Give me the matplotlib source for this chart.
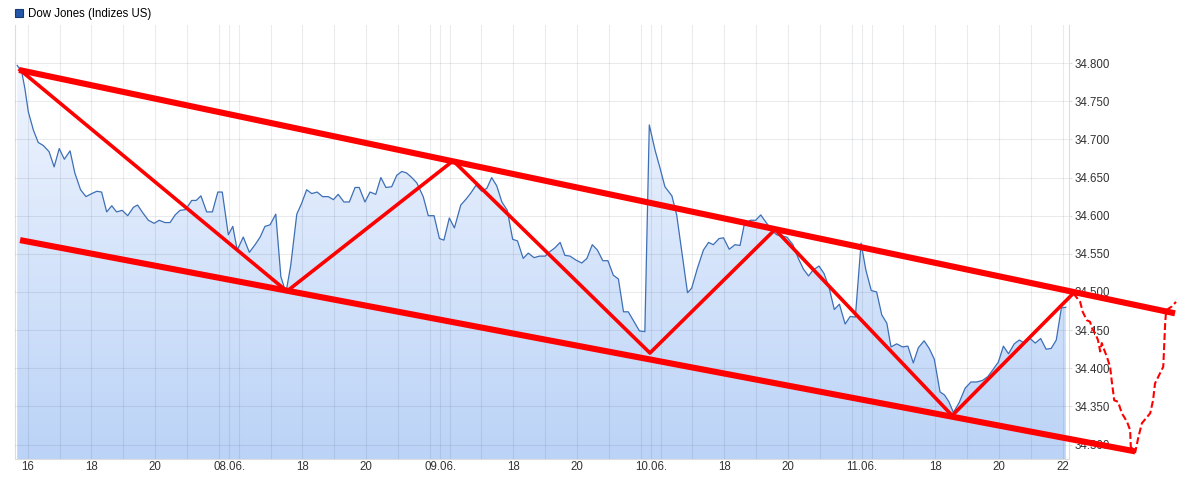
import matplotlib
matplotlib.use('Agg')
import matplotlib.pyplot as plt
from matplotlib.colors import LinearSegmentedColormap
from matplotlib.patches import Patch
import numpy as np

plt.rcParams['font.family'] = ['Liberation Sans', 'DejaVu Sans']

# x axis = trading hours since 07.06. 15:30, sessions 15:30-22:00 glued together
session_len = 6.625
day_labels = ['07.06.', '08.06.', '09.06.', '10.06.', '11.06.']

dow_t = [
    0.17, 0.31, 0.41, 0.52, 0.68, 0.83, 0.99, 1.17, 1.33, 1.49, 1.65, 1.83, 1.98, 2.16,
    2.33, 2.51, 2.67, 2.82, 2.98, 3.14, 3.29, 3.47, 3.64, 3.82, 3.95, 4.11, 4.29, 4.47,
    4.63, 4.81, 4.97, 5.13, 5.28, 5.46, 5.65, 5.79, 5.94, 6.12, 6.30, 6.47, 6.61,
    6.80, 6.94, 7.08, 7.27, 7.46, 7.64, 7.80, 7.95, 8.11, 8.29, 8.45, 8.61, 8.76, 8.95,
    9.10, 9.26, 9.42, 9.59, 9.76, 9.94, 10.10, 10.25, 10.43, 10.60, 10.78, 10.91, 11.09,
    11.25, 11.43, 11.59, 11.75, 11.93, 12.09, 12.25, 12.40, 12.56, 12.72, 12.92, 13.08, 13.26,
    13.43, 13.57, 13.74, 13.90, 14.10, 14.27, 14.42, 14.58, 14.76, 14.92, 15.07, 15.23,
    15.39, 15.56, 15.73, 15.88, 16.06, 16.22, 16.40, 16.57, 16.75, 16.90, 17.06, 17.22,
    17.37, 17.53, 17.71, 17.90, 18.06, 18.23, 18.39, 18.56, 18.72, 18.89, 19.05, 19.21,
    19.36, 19.54, 19.71, 19.88,
    20.02, 20.20, 20.36, 20.51, 20.73, 20.88, 21.04, 21.22, 21.35, 21.53, 21.72, 21.88,
    22.03, 22.21, 22.35, 22.53, 22.71, 22.87, 23.00, 23.19, 23.36, 23.52, 23.69, 23.87,
    24.02, 24.18, 24.34, 24.53, 24.70, 24.86, 25.02, 25.17, 25.35, 25.51, 25.67, 25.83,
    25.99, 26.17, 26.33, 26.49,
    26.67, 26.82, 26.99, 27.16, 27.32, 27.48, 27.61, 27.79, 27.97, 28.14, 28.31, 28.47,
    28.65, 28.81, 28.97, 29.15, 29.29, 29.43, 29.57, 29.75, 29.94, 30.12, 30.30, 30.48,
    30.65, 30.81, 30.98, 31.14, 31.30, 31.48, 31.64, 31.80, 31.98, 32.14, 32.31, 32.48,
    32.64, 32.80, 32.96, 33.10,
]
dow_values = [
    34797, 34789, 34767, 34736, 34712, 34696, 34692, 34684, 34664, 34688, 34674, 34685, 34656, 34634,
    34625, 34629, 34632, 34631, 34605, 34613, 34605, 34607, 34600, 34611, 34614, 34604, 34594, 34590,
    34594, 34591, 34591, 34601, 34607, 34608, 34620, 34620, 34626, 34605, 34605, 34631, 34631,
    34575, 34586, 34555, 34572, 34552, 34562, 34572, 34586, 34588, 34602, 34520, 34499, 34535, 34602,
    34616, 34634, 34629, 34631, 34625, 34625, 34621, 34628, 34618, 34618, 34637, 34637, 34618,
    34631, 34628, 34650, 34637, 34638, 34653, 34658, 34656, 34650, 34643, 34625, 34600, 34600,
    34570, 34568, 34597, 34584, 34614, 34622, 34630, 34640, 34632, 34636, 34650, 34639,
    34618, 34607, 34569, 34567, 34544, 34551, 34545, 34547, 34547, 34553, 34558, 34565,
    34548, 34547, 34542, 34538, 34544, 34562, 34555, 34541, 34541, 34522, 34517, 34474,
    34474, 34461, 34449, 34448,
    34719, 34686, 34662, 34638, 34626, 34601, 34553, 34499, 34505, 34531, 34555, 34565,
    34562, 34570, 34571, 34556, 34562, 34561, 34588, 34594, 34594, 34601, 34591, 34581,
    34575, 34573, 34572, 34562, 34544, 34530, 34521, 34529, 34534, 34524, 34505, 34477,
    34484, 34458, 34468, 34467,
    34564, 34529, 34502, 34500, 34470, 34459, 34428, 34432, 34428, 34429, 34407, 34427,
    34436, 34426, 34412, 34369, 34365, 34356, 34342, 34355, 34374, 34382, 34382, 34384,
    34389, 34398, 34408, 34429, 34419, 34432, 34437, 34433, 34439, 34433, 34439, 34425,
    34426, 34437, 34479, 34480,
]

# hand-drawn red analysis lines
upper_t = [0.23, 36.53]
upper_v = [34791, 34472]
lower_t = [0.26, 35.28]
lower_v = [34568, 34291]
zigzag_t = [0.26, 8.64, 13.86, 20.04, 23.97, 29.53, 33.33]
zigzag_v = [34791, 34501, 34672, 34420, 34582, 34338, 34498]
forecast_t = [33.34, 33.55, 33.63, 33.76, 33.86, 33.92, 34.05, 34.11, 34.18, 34.23, 34.27,
              34.39, 34.49, 34.54, 34.62, 34.74, 34.86, 35.02, 35.12, 35.14, 35.28, 35.38,
              35.49, 35.75, 35.84, 35.90, 36.16, 36.22, 36.25, 36.43, 36.56]
forecast_v = [34498, 34487, 34474, 34463, 34461, 34453, 34443, 34437, 34422, 34433, 34428,
              34415, 34402, 34384, 34358, 34356, 34341, 34330, 34319, 34297, 34290, 34310,
              34328, 34341, 34358, 34380, 34402, 34459, 34476, 34481, 34487]

y_ticks = list(range(34300, 34801, 50))

ymin, ymax = 34281, 34850
xmin, xmax = 0.10, 33.2

fig = plt.figure(figsize=(11.79, 4.78), dpi=100)
ax = fig.add_axes([0.0127, 0.0397, 0.8940, 0.9080])
ax.set_xlim(xmin, xmax)
ax.set_ylim(ymin, ymax)

# gradient area under the line
grad = LinearSegmentedColormap.from_list('g', ['#bbd3f7', '#f6f9ff'])
img = ax.imshow(np.linspace(0, 1, 256).reshape(-1, 1), cmap=grad, aspect='auto',
                extent=[xmin, xmax, ymin, ymax], origin='lower', zorder=1)
poly = ax.fill_between(dow_t, dow_values, ymin, color='none', lw=0)
img.set_clip_path(poly.get_paths()[0], transform=ax.transData)

ax.plot(dow_t, dow_values, color='#3d6fb6', lw=0.9, zorder=3)

# ticks and grid
tick_pos, tick_lab = [], []
for d, lab in enumerate(day_labels):
    off = d * session_len
    if d > 0:
        tick_pos.append(off + 0.2)
        tick_lab.append(lab)
    for h in range(16, 23):
        tick_pos.append(off + h - 15.5)
        if h in (18, 20) or (h == 16 and d == 0) or (h == 22 and d == len(day_labels) - 1):
            tick_lab.append(str(h))
        else:
            tick_lab.append('')
ax.set_xticks(tick_pos)
ax.set_xticklabels(tick_lab, fontsize=8.3, color='#333333')
ax.set_yticks(y_ticks)
ax.set_yticklabels([f'{v:,}'.replace(',', '.') for v in y_ticks], fontsize=8.3, color='#333333')
ax.yaxis.tick_right()
ax.tick_params(axis='x', length=0, pad=1.5)
ax.tick_params(axis='y', length=2.5, pad=1.2, color='#dddddd')
ax.grid(True, color='#1a2a40', alpha=0.09, lw=0.8, zorder=2)
ax.set_axisbelow(False)
for s in ax.spines.values():
    s.set_color('#dddddd')
    s.set_linewidth(0.8)
ax.spines['top'].set_visible(False)

# red annotation lines
ax.plot(upper_t, upper_v, color='#ff0000', lw=4.4, solid_capstyle='butt', clip_on=False, zorder=6)
ax.plot(lower_t, lower_v, color='#ff0000', lw=4.4, solid_capstyle='butt', clip_on=False, zorder=6)
ax.plot(zigzag_t, zigzag_v, color='#ff0000', lw=2.6, clip_on=False, zorder=6)
ax.plot(forecast_t, forecast_v, color='#ff0000', lw=1.5, ls=(0, (3.3, 1.5)), clip_on=False, zorder=6)

fig.legend(handles=[Patch(facecolor='#2556a8', edgecolor='#173a73', lw=0.8)],
           labels=['Dow Jones (Indizes US)'], loc='upper left', bbox_to_anchor=(0.006, 1.0),
           frameon=False, fontsize=8.3, handlelength=0.65, handleheight=0.65, handletextpad=0.45,
           borderaxespad=0.3)

fig.savefig('out.png', dpi=100)
